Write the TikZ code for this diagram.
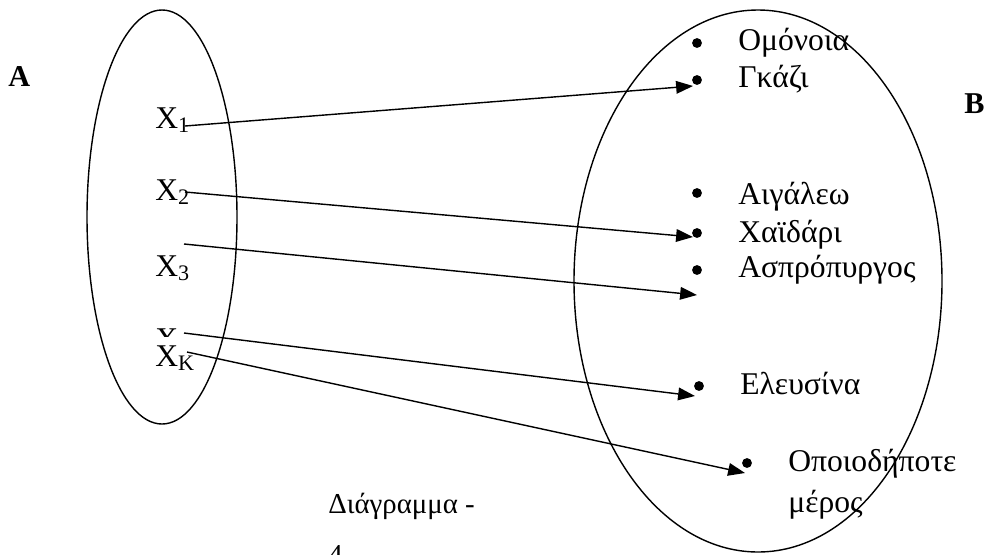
\documentclass[tikz,border=0pt]{standalone}
\usepackage{fontspec}
\setmainfont{Liberation Serif}
\usetikzlibrary{arrows.meta}

\begin{document}
\begin{tikzpicture}[x=0.025cm,y=-0.025cm,
  every node/.style={inner sep=0pt,font=\fontsize{22.5}{28.5}\selectfont},
  lbl/.style={anchor=base west},
  setname/.style={anchor=base west,font=\bfseries\fontsize{21.5}{26}\selectfont},
  dot/.style={circle,fill=black,minimum size=7pt},
  link/.style={-{Triangle[length=12pt,width=9pt]},line width=1pt}]
\useasboundingbox (0,0) rectangle (985,554);
\draw[line width=1pt] (162,217) ellipse [x radius=75,y radius=207];
\draw[line width=1pt] (758,281) ellipse [x radius=184,y radius=271];
\node[setname] (setA) at (8,86) {A};
\node[setname] (setB) at (964,113) {B};
\node[lbl] (x1) at (155,128) {X\textsubscript{1}};
\node[lbl] (x2) at (155,200) {X\textsubscript{2}};
\node[lbl] (x3) at (155,276) {X\textsubscript{3}};
\begin{scope}
\clip (140,300) rectangle (200,336);
\node[lbl] (xi) at (155,349) {X\textsubscript{i}};
\end{scope}
\node[lbl] (xk) at (155,366) {X\textsubscript{K}};
\node[dot] (b1) at (697,43) {};
\node[lbl] (omonoia) at (738,50) {Ομόνοια};
\node[dot] (b2) at (697,80) {};
\node[lbl] (gkazi) at (738,87) {Γκάζι};
\node[dot] (b3) at (697,193) {};
\node[lbl] (aigaleo) at (738,204) {Αιγάλεω};
\node[dot] (b4) at (697,233) {};
\node[lbl] (chaidari) at (738,242) {Χαϊδάρι};
\node[dot] (b5) at (697,270) {};
\node[lbl] (aspropyrgos) at (738,277) {Ασπρόπυργος};
\node[dot] (b6) at (699,386) {};
\node[lbl] (elefsina) at (740,394) {Ελευσίνα};
\node[dot] (b7) at (747,463) {};
\node[lbl,align=left] (anywhere) at (788,512) {Οποιοδήποτε\\μέρος};
\node[lbl,align=left,font=\fontsize{20.5}{36}\selectfont] (caption) at (328,564) {Διάγραμμα -\\4};
\coordinate (x1 out) at (185,126);
\coordinate (x2 out) at (185,192);
\coordinate (x3 out) at (184,244);
\coordinate (xi out) at (184,333);
\coordinate (xk out) at (187,352);
\coordinate (b2 in) at (693,86);
\coordinate (b4 in) at (693,237);
\coordinate (b5 in) at (697,295);
\coordinate (b6 in) at (695,396);
\coordinate (b7 in) at (745,473);
\draw[link] (x1 out) -- (b2 in);
\draw[link] (x2 out) -- (b4 in);
\draw[link] (x3 out) -- (b5 in);
\draw[link] (xi out) -- (b6 in);
\draw[link] (xk out) -- (b7 in);
\end{tikzpicture}
\end{document}
